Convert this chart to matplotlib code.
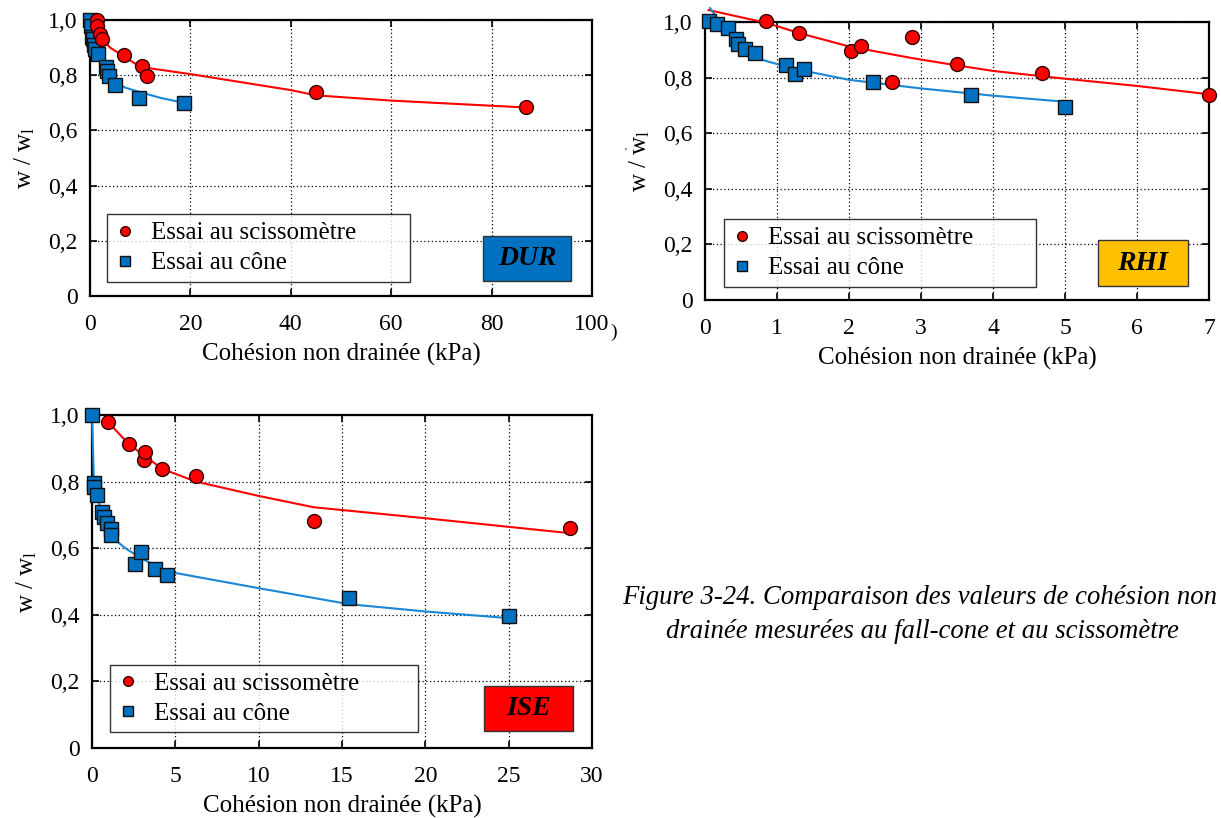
import matplotlib
matplotlib.use("Agg")
import matplotlib.pyplot as plt
from matplotlib.patches import Rectangle
from matplotlib.lines import Line2D

plt.rcParams['font.family'] = ['Liberation Serif', 'DejaVu Serif']
plt.rcParams['mathtext.fontset'] = 'custom'
plt.rcParams['mathtext.rm'] = 'Liberation Serif'
plt.rcParams['mathtext.default'] = 'regular'

# ---------------- data ----------------
# DUR
dur_vane_x = [1.3, 1.4, 2.0, 2.4, 6.8, 10.4, 11.4, 45.0, 86.8]
dur_vane_y = [1.00, 0.98, 0.95, 0.93, 0.873, 0.833, 0.797, 0.739, 0.683]
dur_cone_x = [0.0, 0.2, 0.4, 0.6, 0.8, 1.0, 1.5, 3.1, 3.4, 3.8, 4.9, 9.7, 18.7]
dur_cone_y = [1.00, 0.98, 0.94, 0.93, 0.91, 0.895, 0.877, 0.83, 0.815, 0.797, 0.764, 0.716, 0.699]
dur_vane_fit_x = [1.3, 2.5, 4.0, 6.8, 10.0, 20.0, 40.0, 45.0, 60.0, 86.8]
dur_vane_fit_y = [1.00, 0.93, 0.90, 0.868, 0.83, 0.804, 0.746, 0.727, 0.708, 0.683]
dur_cone_fit_x = [0.3, 1.0, 1.5, 3.0, 4.7, 7.0, 9.7, 14.0, 18.7]
dur_cone_fit_y = [0.965, 0.90, 0.873, 0.82, 0.776, 0.755, 0.74, 0.718, 0.70]

# RHI
rhi_vane_x = [0.85, 1.31, 2.03, 2.17, 2.6, 2.88, 3.5, 4.68, 7.0]
rhi_vane_y = [1.005, 0.962, 0.897, 0.914, 0.785, 0.945, 0.849, 0.818, 0.739]
rhi_cone_x = [0.06, 0.16, 0.32, 0.43, 0.46, 0.56, 0.69, 1.13, 1.25, 1.37, 2.34, 3.7, 5.0]
rhi_cone_y = [1.005, 0.993, 0.977, 0.938, 0.921, 0.904, 0.89, 0.844, 0.813, 0.83, 0.785, 0.737, 0.693]
rhi_vane_fit_x = [0.05, 0.5, 0.85, 1.31, 2.0, 2.88, 3.4, 4.0, 5.0, 6.0, 7.0]
rhi_vane_fit_y = [1.043, 1.017, 0.997, 0.96, 0.912, 0.87, 0.848, 0.824, 0.796, 0.77, 0.74]
rhi_cone_fit_x = [0.07, 0.32, 0.56, 0.72, 1.125, 1.5, 2.0, 3.0, 4.0, 5.0]
rhi_cone_fit_y = [1.05, 0.959, 0.90, 0.869, 0.84, 0.818, 0.792, 0.761, 0.735, 0.713]

# ISE
ise_vane_x = [0.98, 2.22, 3.1, 3.18, 4.22, 6.24, 13.3, 28.7]
ise_vane_y = [0.978, 0.912, 0.865, 0.888, 0.838, 0.818, 0.683, 0.661]
ise_cone_x = [0.0, 0.12, 0.12, 0.32, 0.6, 0.74, 0.88, 1.12, 1.14, 2.58, 2.94, 3.78, 4.52, 15.4, 25.0]
ise_cone_y = [1.0, 0.797, 0.783, 0.76, 0.708, 0.693, 0.677, 0.657, 0.64, 0.553, 0.588, 0.537, 0.52, 0.45, 0.397]
ise_vane_fit_x = [0.98, 2.22, 4.22, 6.24, 10.0, 13.3, 20.0, 28.7]
ise_vane_fit_y = [0.978, 0.912, 0.838, 0.80, 0.757, 0.723, 0.69, 0.645]
ise_cone_fit_x = [0.0, 0.12, 0.32, 0.6, 1.14, 2.0, 2.94, 4.52, 10.0, 15.4, 20.0, 25.0]
ise_cone_fit_y = [1.0, 0.79, 0.755, 0.70, 0.635, 0.60, 0.57, 0.53, 0.48, 0.432, 0.41, 0.39]

labels = ["Essai au scissomètre", "Essai au cône"]
ytick_labels = ["0", "0,2", "0,4", "0,6", "0,8", "1,0"]

RED = "#ff0000"
BLUE = "#0070c0"
BLUE_LINE = "#1a86d8"
FS = 18

fig = plt.figure(figsize=(12.21, 8.18), dpi=100)


def panel(rect, xmax, xstep, vx, vy, cx, cy, vfx, vfy, cfx, cfy, tag, tagcol, tagbox, legx):
    ax = fig.add_axes(rect)
    ax.plot(vfx, vfy, color=RED, lw=1.5, clip_on=False, zorder=3)
    ax.plot(cfx, cfy, color=BLUE_LINE, lw=1.5, clip_on=False, zorder=3)
    ax.plot(cx, cy, 's', ms=10, mfc=BLUE, mec="#111111", mew=1.0, clip_on=False, zorder=4)
    ax.plot(vx, vy, 'o', ms=10, mfc=RED, mec="#330000", mew=1.0, clip_on=False, zorder=5)
    ax.set_xlim(0, xmax)
    ax.set_ylim(0, 1.0)
    ax.set_xticks([i * xstep for i in range(int(round(xmax / xstep)) + 1)])
    ax.set_yticks([0, 0.2, 0.4, 0.6, 0.8, 1.0])
    ax.set_yticklabels(ytick_labels)
    ax.tick_params(direction='in', length=5, width=1.2, top=True, right=True,
                   labelsize=17)
    ax.tick_params(axis='x', pad=13)
    ax.tick_params(axis='y', pad=9)
    for s in ax.spines.values():
        s.set_linewidth(1.6)
    ax.grid(True, color='black', lw=0.9, ls=(0, (1, 2)))
    ax.set_axisbelow(True)
    ax.set_xlabel("Cohésion non drainée (kPa)", fontsize=FS, labelpad=6)
    ax.set_ylabel(r"w / w$_{l}$", fontsize=FS, labelpad=8)

    handles = [Line2D([], [], ls='none', marker='o', ms=7, mfc=RED, mec="#330000"),
               Line2D([], [], ls='none', marker='s', ms=7, mfc=BLUE, mec="#111111")]
    leg = ax.legend(handles, labels, loc='lower left', bbox_to_anchor=legx,
                    mode='expand', fontsize=FS, frameon=True, fancybox=False,
                    borderpad=0.3, labelspacing=0.3, handlelength=0.8,
                    handletextpad=0.65, borderaxespad=0)
    leg.get_frame().set_edgecolor('black')
    leg.get_frame().set_linewidth(1.0)
    leg.set_zorder(6)

    x0, y0, x1, y1 = tagbox
    ax.add_patch(Rectangle((x0, y0), x1 - x0, y1 - y0, transform=ax.transAxes,
                           facecolor=tagcol, edgecolor='#333333', lw=1.0, zorder=6))
    ax.text((x0 + x1) / 2, (y0 + y1) / 2, tag, transform=ax.transAxes,
            ha='center', va='center', fontsize=20, fontweight='bold',
            fontstyle='italic', zorder=7)
    return ax


W, H = 1221.0, 818.0


def rect_px(l, r, t, b):
    return [l / W, 1 - b / H, (r - l) / W, (b - t) / H]


panel(rect_px(90, 592, 20, 296), 100, 20, dur_vane_x, dur_vane_y, dur_cone_x, dur_cone_y,
      dur_vane_fit_x, dur_vane_fit_y, dur_cone_fit_x, dur_cone_fit_y,
      "DUR", BLUE, (0.783, 0.054, 0.958, 0.217), (0.034, 0.051, 0.604, 0.2))

panel(rect_px(705, 1209, 22, 300), 7, 1, rhi_vane_x, rhi_vane_y, rhi_cone_x, rhi_cone_y,
      rhi_vane_fit_x, rhi_vane_fit_y, rhi_cone_fit_x, rhi_cone_fit_y,
      "RHI", "#ffc000", (0.780, 0.050, 0.958, 0.216), (0.038, 0.047, 0.619, 0.2))

panel(rect_px(92, 592, 415, 748), 30, 5, ise_vane_x, ise_vane_y, ise_cone_x, ise_cone_y,
      ise_vane_fit_x, ise_vane_fit_y, ise_cone_fit_x, ise_cone_fit_y,
      "ISE", RED, (0.784, 0.051, 0.962, 0.186), (0.036, 0.048, 0.616, 0.2))

fig.text(920 / W, 1 - 598 / H, "Figure 3-24. Comparaison des valeurs de cohésion non",
         ha='center', va='center', fontsize=19.3, fontstyle='italic')
fig.text(922 / W, 1 - 631 / H, "drainée mesurées au fall-cone et au scissomètre",
         ha='center', va='center', fontsize=19.3, fontstyle='italic')
fig.text(610 / W, 1 - 332 / H, ")", ha='left', va='center', fontsize=14)
fig.text(625 / W, 1 - 152 / H, "'", ha='left', va='center', fontsize=8)

fig.savefig("out.png", dpi=100)
